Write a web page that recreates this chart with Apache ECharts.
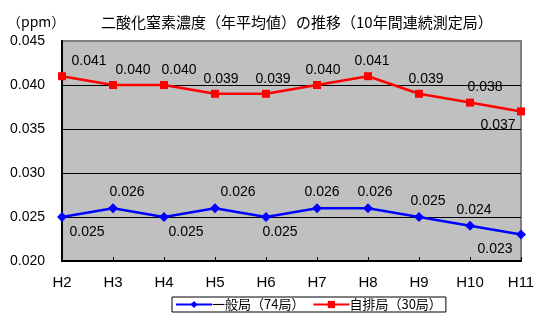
<!DOCTYPE html>
<html>
<head>
<meta charset="utf-8">
<script src="https://cdn.jsdelivr.net/npm/echarts@6/dist/echarts.min.js"></script>
<style>
  html, body { margin: 0; padding: 0; background: #fff; }
  #chart { width: 549px; height: 329px; }
</style>
</head>
<body>
<div id="chart"></div>
<script>
// Fiscal years (Heisei) on the category axis
const years = ['H2', 'H3', 'H4', 'H5', 'H6', 'H7', 'H8', 'H9', 'H10', 'H11'];

// Annual mean NO2 concentration (ppm)
const ippanValues = [0.025, 0.026, 0.025, 0.026, 0.025, 0.026, 0.026, 0.025, 0.024, 0.023];
const jihaiValues = [0.041, 0.040, 0.040, 0.039, 0.039, 0.040, 0.041, 0.039, 0.038, 0.037];

const ippanName = '一般局（74局）';
const jihaiName = '自排局（30局）';

// Value label placement: side of the point and horizontal nudge (px)
const ippanLabelSide = ['bottom', 'top', 'bottom', 'top', 'bottom', 'top', 'top', 'top', 'top', 'bottom'];
const ippanLabelDx   = [25, 14, 22, 23, 14, 5, 7, 9, 4, -26];
const jihaiLabelSide = ['top', 'top', 'top', 'top', 'top', 'top', 'top', 'top', 'top', 'bottom'];
const jihaiLabelDx   = [27, 20, 15, 6, 7, 6, 4, 7, 15, -23];

const numFont = '"Liberation Sans", Arial, sans-serif';
const jpFont = '"Noto Sans CJK JP", sans-serif';

function withLabels(values, sides, dxs) {
  return values.map((v, i) => ({
    value: v,
    label: {
      position: sides[i],
      distance: sides[i] === 'top' ? 4 : 3,
      offset: [dxs[i], 0]
    }
  }));
}

const chart = echarts.init(document.getElementById('chart'), null, { renderer: 'canvas' });

chart.setOption({
  backgroundColor: '#ffffff',
  animation: false,
  title: [
    {
      text: '二酸化窒素濃度（年平均値）の推移（10年間連続測定局）',
      left: 96, top: 10,
      textStyle: { fontFamily: jpFont, fontSize: 15, fontWeight: 'normal', color: '#000' }
    },
    {
      text: '（ppm）',
      left: 2, top: 10,
      textStyle: { fontFamily: jpFont, fontSize: 14, fontWeight: 'normal', color: '#000' }
    }
  ],
  legend: {
    data: [ippanName, jihaiName],
    left: 172, top: 297,
    itemWidth: 36, itemHeight: 9, itemGap: 8,
    padding: [1, 4, 1, 3],
    borderColor: '#000', borderWidth: 1, borderRadius: 0,
    backgroundColor: '#fff',
    textStyle: { fontFamily: jpFont, fontSize: 13, color: '#000', padding: [0, 0, 0, -5] }
  },
  grid: {
    left: 62, top: 41, width: 459, height: 220,
    show: true,
    backgroundColor: '#c0c0c0',
    borderColor: '#808080',
    borderWidth: 2
  },
  xAxis: {
    type: 'category',
    data: years,
    boundaryGap: false,
    axisLine: { lineStyle: { color: '#000', width: 2 } },
    axisTick: { show: true, inside: true, length: 4, lineStyle: { color: '#000' } },
    axisLabel: { margin: 14, fontFamily: numFont, fontSize: 15, color: '#000' },
    splitLine: { show: false }
  },
  yAxis: {
    type: 'value',
    min: 0.020, max: 0.045, interval: 0.005,
    axisLine: { show: true, lineStyle: { color: '#000', width: 2 } },
    axisTick: { show: false },
    axisLabel: {
      margin: 17, fontFamily: numFont, fontSize: 14, color: '#000',
      formatter: v => v.toFixed(3)
    },
    splitLine: {
      show: true,
      lineStyle: { color: ['#000', '#000', '#000', '#000', '#000', '#808080'], width: 1 }
    }
  },
  series: [
    {
      name: ippanName,
      type: 'line',
      data: withLabels(ippanValues, ippanLabelSide, ippanLabelDx),
      symbol: 'diamond', symbolSize: 10,
      itemStyle: { color: '#0000ff' },
      lineStyle: { color: '#0000ff', width: 2.5 },
      label: {
        show: true, fontFamily: numFont, fontSize: 14, color: '#000',
        formatter: p => p.value.toFixed(3)
      },
      z: 3
    },
    {
      name: jihaiName,
      type: 'line',
      data: withLabels(jihaiValues, jihaiLabelSide, jihaiLabelDx),
      symbol: 'rect', symbolSize: 8,
      itemStyle: { color: '#ff0000' },
      lineStyle: { color: '#ff0000', width: 2.5 },
      label: {
        show: true, fontFamily: numFont, fontSize: 14, color: '#000',
        formatter: p => p.value.toFixed(3)
      },
      z: 3
    }
  ]
});
</script>
</body>
</html>
